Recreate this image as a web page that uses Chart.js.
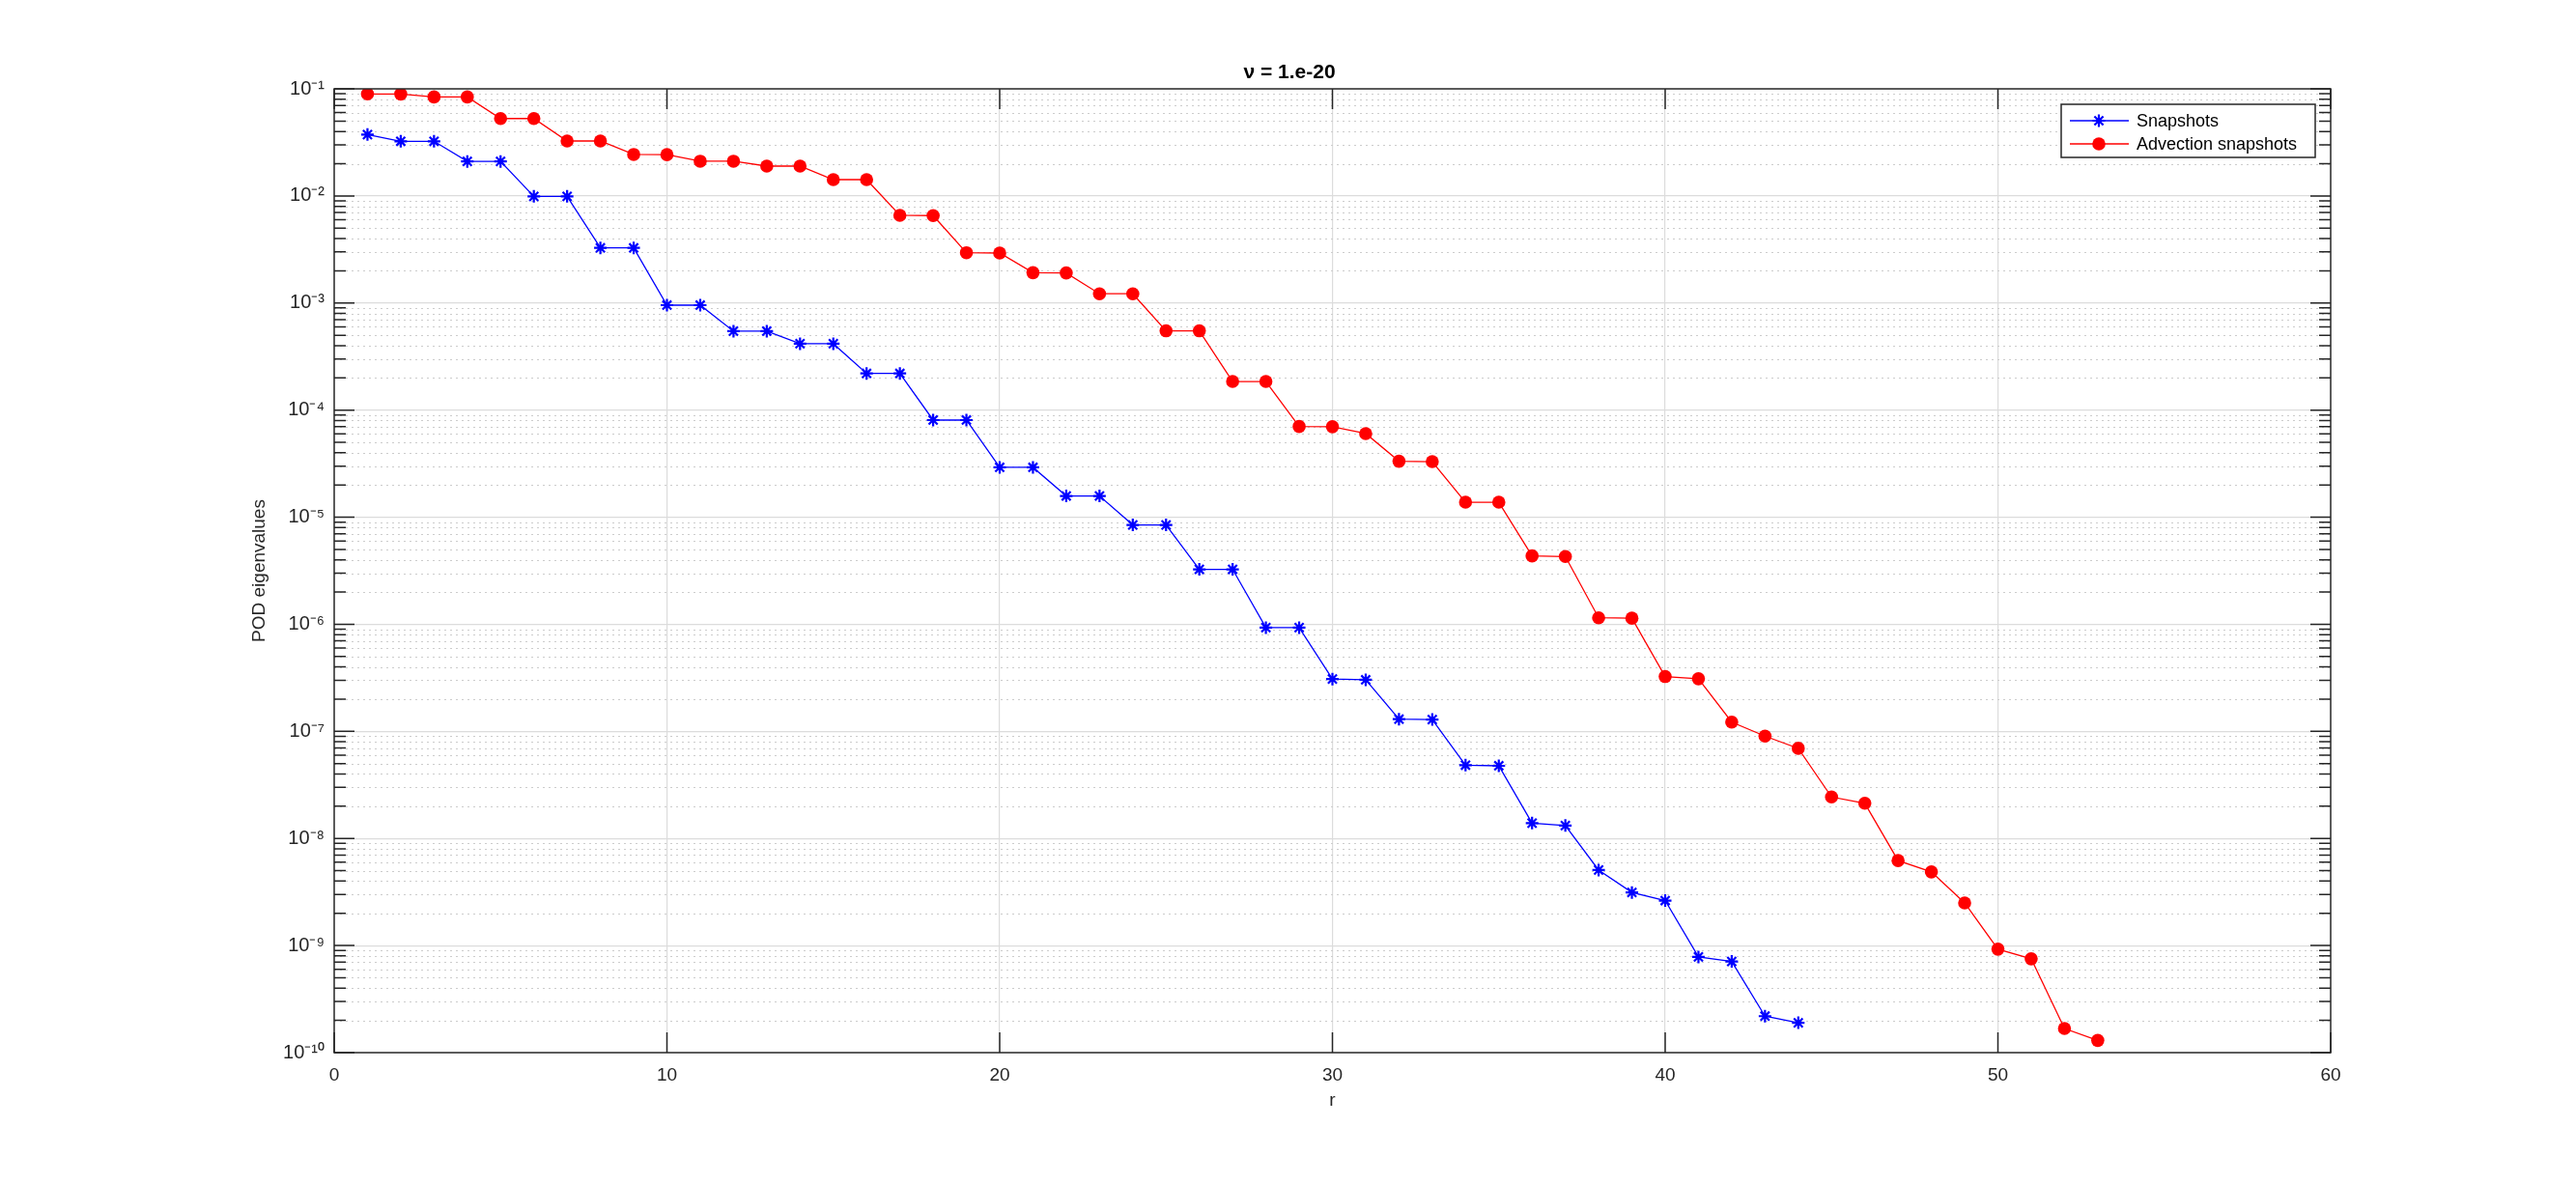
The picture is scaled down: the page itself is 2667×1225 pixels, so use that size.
<!DOCTYPE html>
<html>
<head>
<meta charset="utf-8">
<script src="https://cdn.jsdelivr.net/npm/chart.js@4/dist/chart.umd.min.js"></script>
<style>
  html, body { margin: 0; padding: 0; background: #ffffff; }
  #wrap { width: 2667px; height: 1225px; }
</style>
</head>
<body>
<div id="wrap"><canvas id="c" width="2667" height="1225"></canvas></div>
<script>
// ---- Data ----
const chartTitle = 'ν = 1.e-20';
const xAxisLabel = 'r';
const yAxisLabel = 'POD eigenvalues';

const seriesNames = ['Snapshots', 'Advection snapshots'];

const rSnapshots = [1,2,3,4,5,6,7,8,9,10,11,12,13,14,15,16,17,18,19,20,21,22,23,24,25,26,27,28,29,30,31,32,33,34,35,36,37,38,39,40,41,42,43,44];
const snapshots = [
  0.0374, 0.0324, 0.0324, 0.0210, 0.0210, 0.0099, 0.0099, 0.00327, 0.00327, 9.55e-4,
  9.55e-4, 5.46e-4, 5.46e-4, 4.17e-4, 4.17e-4, 2.20e-4, 2.20e-4, 8.07e-5, 8.07e-5, 2.92e-5,
  2.92e-5, 1.58e-5, 1.58e-5, 8.46e-6, 8.46e-6, 3.26e-6, 3.26e-6, 9.31e-7, 9.30e-7, 3.08e-7,
  3.03e-7, 1.30e-7, 1.29e-7, 4.84e-8, 4.77e-8, 1.39e-8, 1.32e-8, 5.07e-9, 3.13e-9, 2.63e-9,
  7.83e-10, 7.10e-10, 2.19e-10, 1.90e-10
];

const rAdvection = [1,2,3,4,5,6,7,8,9,10,11,12,13,14,15,16,17,18,19,20,21,22,23,24,25,26,27,28,29,30,31,32,33,34,35,36,37,38,39,40,41,42,43,44,45,46,47,48,49,50,51,52,53];
const advectionSnapshots = [
  0.0896, 0.0895, 0.0840, 0.0840, 0.0528, 0.0528, 0.0326, 0.0326, 0.0244, 0.0243,
  0.0211, 0.0211, 0.0190, 0.0190, 0.0142, 0.0142, 0.00659, 0.00655, 0.00295, 0.00293,
  0.00192, 0.00191, 0.00122, 0.00122, 5.5e-4, 5.5e-4, 1.85e-4, 1.85e-4, 7.03e-5, 7.0e-5,
  6.04e-5, 3.33e-5, 3.30e-5, 1.38e-5, 1.38e-5, 4.35e-6, 4.29e-6, 1.15e-6, 1.14e-6, 3.25e-7,
  3.10e-7, 1.22e-7, 9.03e-8, 6.94e-8, 2.44e-8, 2.13e-8, 6.21e-9, 4.87e-9, 2.50e-9, 9.25e-10,
  7.52e-10, 1.68e-10, 1.30e-10
];

const xTicks = [0, 10, 20, 30, 40, 50, 60];
const yTicks = [1e-10, 1e-9, 1e-8, 1e-7, 1e-6, 1e-5, 1e-4, 1e-3, 1e-2, 1e-1];
const yTickLabels = ['10⁻¹⁰', '10⁻⁹', '10⁻⁸', '10⁻⁷', '10⁻⁶', '10⁻⁵', '10⁻⁴', '10⁻³', '10⁻²', '10⁻¹'];
const minorMultipliers = [2, 3, 4, 5, 6, 7, 8, 9];

// ---- Styling ----
const FONT = '"Liberation Sans", Arial, Helvetica, sans-serif';
const AXIS_COLOR = '#262626';

function toPoints(xs, ys) { return xs.map((r, i) => ({ x: r, y: ys[i] })); }

const matlabAxes = {
  id: 'matlabAxes',
  beforeDatasetsDraw(chart) {
    const { ctx, chartArea: a, scales: { y } } = chart;
    ctx.save();
    ctx.strokeStyle = '#cccccc';
    ctx.lineWidth = 1;
    ctx.setLineDash([2, 4]);
    for (let k = 0; k < yTicks.length - 1; k++) {
      for (const m of minorMultipliers) {
        const py = Math.round(y.getPixelForValue(m * yTicks[k])) + 0.5;
        ctx.beginPath(); ctx.moveTo(a.left, py); ctx.lineTo(a.right, py); ctx.stroke();
      }
    }
    ctx.restore();
  },
  afterDraw(chart) {
    const { ctx, chartArea: a, scales: { x, y } } = chart;
    ctx.save();
    ctx.strokeStyle = AXIS_COLOR;
    ctx.lineWidth = 1.5;
    ctx.setLineDash([]);
    ctx.strokeRect(a.left, a.top, a.right - a.left, a.bottom - a.top);
    for (const v of xTicks) {
      const px = x.getPixelForValue(v);
      ctx.beginPath();
      ctx.moveTo(px, a.bottom); ctx.lineTo(px, a.bottom - 21);
      ctx.moveTo(px, a.top); ctx.lineTo(px, a.top + 21);
      ctx.stroke();
    }
    for (const v of yTicks) {
      const py = y.getPixelForValue(v);
      ctx.beginPath();
      ctx.moveTo(a.left, py); ctx.lineTo(a.left + 21, py);
      ctx.moveTo(a.right, py); ctx.lineTo(a.right - 21, py);
      ctx.stroke();
    }
    for (let k = 0; k < yTicks.length - 1; k++) {
      for (const m of minorMultipliers) {
        const py = y.getPixelForValue(m * yTicks[k]);
        ctx.beginPath();
        ctx.moveTo(a.left, py); ctx.lineTo(a.left + 12, py);
        ctx.moveTo(a.right, py); ctx.lineTo(a.right - 12, py);
        ctx.stroke();
      }
    }
    // legend (inside, top-right)
    const bx = a.right - 279, by = a.top + 16, bw = 263, bh = 55;
    ctx.fillStyle = '#ffffff';
    ctx.fillRect(bx, by, bw, bh);
    ctx.strokeStyle = AXIS_COLOR;
    ctx.lineWidth = 1.5;
    ctx.strokeRect(bx, by, bw, bh);
    chart.data.datasets.forEach((ds, i) => {
      const cy = by + 17 + i * 24;
      ctx.strokeStyle = ds.borderColor;
      ctx.lineWidth = ds.borderWidth;
      ctx.beginPath(); ctx.moveTo(bx + 9, cy); ctx.lineTo(bx + 70, cy); ctx.stroke();
      ctx.fillStyle = ds.pointBackgroundColor;
      ctx.strokeStyle = ds.pointBorderColor;
      ctx.lineWidth = ds.pointBorderWidth;
      if (ds.pointStyle === 'circle') {
        ctx.beginPath();
        ctx.arc(bx + 39, cy, ds.pointRadius, 0, Math.PI * 2);
        ctx.fill();
      } else {
        Chart.helpers.drawPoint(ctx, { pointStyle: ds.pointStyle, radius: ds.pointRadius, borderWidth: ds.pointBorderWidth, rotation: 0 }, bx + 39, cy);
      }
      ctx.fillStyle = '#000000';
      ctx.font = '18px ' + FONT;
      ctx.textBaseline = 'middle';
      ctx.textAlign = 'left';
      ctx.fillText(ds.label, bx + 78, cy + 1);
    });
    ctx.restore();
  }
};

new Chart(document.getElementById('c'), {
  type: 'line',
  data: {
    datasets: [
      {
        label: seriesNames[0],
        data: toPoints(rSnapshots, snapshots),
        borderColor: '#0000ff',
        backgroundColor: '#0000ff',
        borderWidth: 1.3,
        pointStyle: 'star',
        pointRadius: 6.5,
        pointBorderWidth: 2.2,
        pointBorderColor: '#0000ff',
        pointBackgroundColor: '#0000ff',
        tension: 0,
        fill: false
      },
      {
        label: seriesNames[1],
        data: toPoints(rAdvection, advectionSnapshots),
        borderColor: '#ff0000',
        backgroundColor: '#ff0000',
        borderWidth: 1.3,
        pointStyle: 'circle',
        pointRadius: 6.8,
        pointBorderWidth: 0,
        pointBorderColor: '#ff0000',
        pointBackgroundColor: '#ff0000',
        tension: 0,
        fill: false
      }
    ]
  },
  options: {
    responsive: false,
    devicePixelRatio: 1,
    animation: false,
    events: [],
    layout: { padding: { left: 257, right: 254, top: 0, bottom: 0 } },
    plugins: {
      legend: { display: false },
      tooltip: { enabled: false },
      title: {
        display: true,
        text: chartTitle,
        color: '#000000',
        font: { family: FONT, size: 21, weight: 'bold', lineHeight: 1.2 },
        padding: { top: 63, bottom: 3.8 }
      }
    },
    scales: {
      x: {
        type: 'linear',
        min: 0, max: 60,
        afterBuildTicks: (s) => { s.ticks = xTicks.map(v => ({ value: v })); },
        afterFit: (s) => { s.height = 135; },
        grid: {
          color: (c) => (c.tick && (c.tick.value === 0 || c.tick.value === 60)) ? 'rgba(0,0,0,0)' : '#dcdcdc',
          lineWidth: 1.2,
          drawTicks: false
        },
        border: { display: false },
        ticks: {
          color: AXIS_COLOR,
          font: { family: FONT, size: 19 },
          padding: 12,
          maxRotation: 0,
          callback: (v) => String(v)
        },
        title: {
          display: true,
          text: xAxisLabel,
          color: AXIS_COLOR,
          font: { family: FONT, size: 19 },
          padding: { top: 0, bottom: 74 }
        }
      },
      y: {
        type: 'logarithmic',
        min: 1e-10, max: 1e-1,
        afterBuildTicks: (s) => { s.ticks = yTicks.map(v => ({ value: v })); },
        afterFit: (s) => { s.width = 89; },
        grid: {
          color: (c) => (c.tick && (c.tick.value === 1e-10 || c.tick.value === 1e-1)) ? 'rgba(0,0,0,0)' : '#dcdcdc',
          lineWidth: 1.2,
          drawTicks: false
        },
        border: { display: false },
        ticks: {
          color: AXIS_COLOR,
          font: { family: FONT, size: 20 },
          padding: 10,
          autoSkip: false,
          callback: function (v) {
            const i = yTicks.findIndex(t => Math.abs(Math.log10(t) - Math.log10(v)) < 1e-6);
            return i >= 0 ? yTickLabels[i] : '';
          }
        },
        title: {
          display: true,
          text: yAxisLabel,
          color: AXIS_COLOR,
          font: { family: FONT, size: 19 },
          padding: { top: 0, bottom: 0 }
        }
      }
    }
  },
  plugins: [matlabAxes]
});
</script>
</body>
</html>
